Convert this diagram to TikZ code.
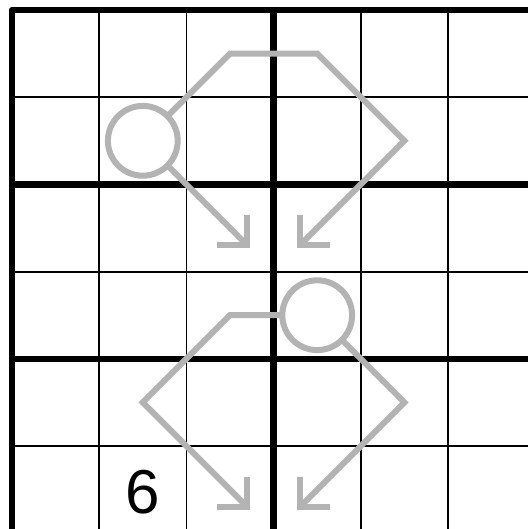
\documentclass[tikz,border=0pt]{standalone}
\usepackage{fontspec}
\setmainfont{Liberation Sans}
\usetikzlibrary{calc}
\definecolor{markgray}{RGB}{179,179,179}
\tikzset{
  thinline/.style={line width=1.8pt, black},
  thickline/.style={line width=6.5pt, black},
  gline/.style={line width=6pt, markgray, line join=miter},
  ring/.style={circle, draw=markgray, line width=6pt, minimum size=69.8pt, inner sep=0pt, outer sep=0pt},
  digit/.style={font=\fontsize{62}{62}\selectfont, inner sep=0pt}
}
\begin{document}
\begin{tikzpicture}[x=1pt,y=-1pt]
\fill[white] (0,0) rectangle (528,529);
\useasboundingbox (0,0) rectangle (528,529);
\begin{scope}[shift={(12,10)}, x=87.2pt, y=-87.2pt]
  % edges of the picture in cell units
  \def\xe{5.917}
  \def\ye{5.952}
  % thin grid
  \foreach \i in {1,2,4,5} \draw[thinline] (\i,0) -- (\i,\ye);
  \foreach \j in {1,3,5} \draw[thinline] (0,\j) -- (\xe,\j);
  % thick box lines
  \draw[thickline] (3,0) -- (3,\ye);
  \foreach \j in {2,4} \draw[thickline] (0,\j) -- (\xe,\j);
  \draw[thickline, line join=round] (0,\ye) -- (0,0) -- (\xe,0);

  % top marking
  \node[ring] (c1) at (1.5,1.5) {};
  \coordinate (t1) at (2.7,2.7);
  \coordinate (t2) at (3.3,2.7);
  \draw[gline] (c1.north east) -- (2.5,0.5) -- (3.5,0.5) -- (4.5,1.5) -- (t2);
  \draw[gline] (c1.south east) -- (t1);
  \draw[gline] ($(t1)+(0,-0.35)$) -- (t1) -- ($(t1)+(-0.35,0)$);
  \draw[gline] ($(t2)+(0,-0.35)$) -- (t2) -- ($(t2)+(0.35,0)$);

  % bottom marking
  \node[ring] (c2) at (3.5,3.5) {};
  \coordinate (t3) at (2.7,5.7);
  \coordinate (t4) at (3.3,5.7);
  \draw[gline] (c2.west) -- (2.5,3.5) -- (1.5,4.5) -- (t3);
  \draw[gline] (c2.south east) -- (4.5,4.5) -- (t4);
  \draw[gline] ($(t3)+(0,-0.35)$) -- (t3) -- ($(t3)+(-0.35,0)$);
  \draw[gline] ($(t4)+(0,-0.35)$) -- (t4) -- ($(t4)+(0.35,0)$);

  % digit
  \node[digit] (d6) at (1.5,5.533) {6};
\end{scope}
\end{tikzpicture}
\end{document}
